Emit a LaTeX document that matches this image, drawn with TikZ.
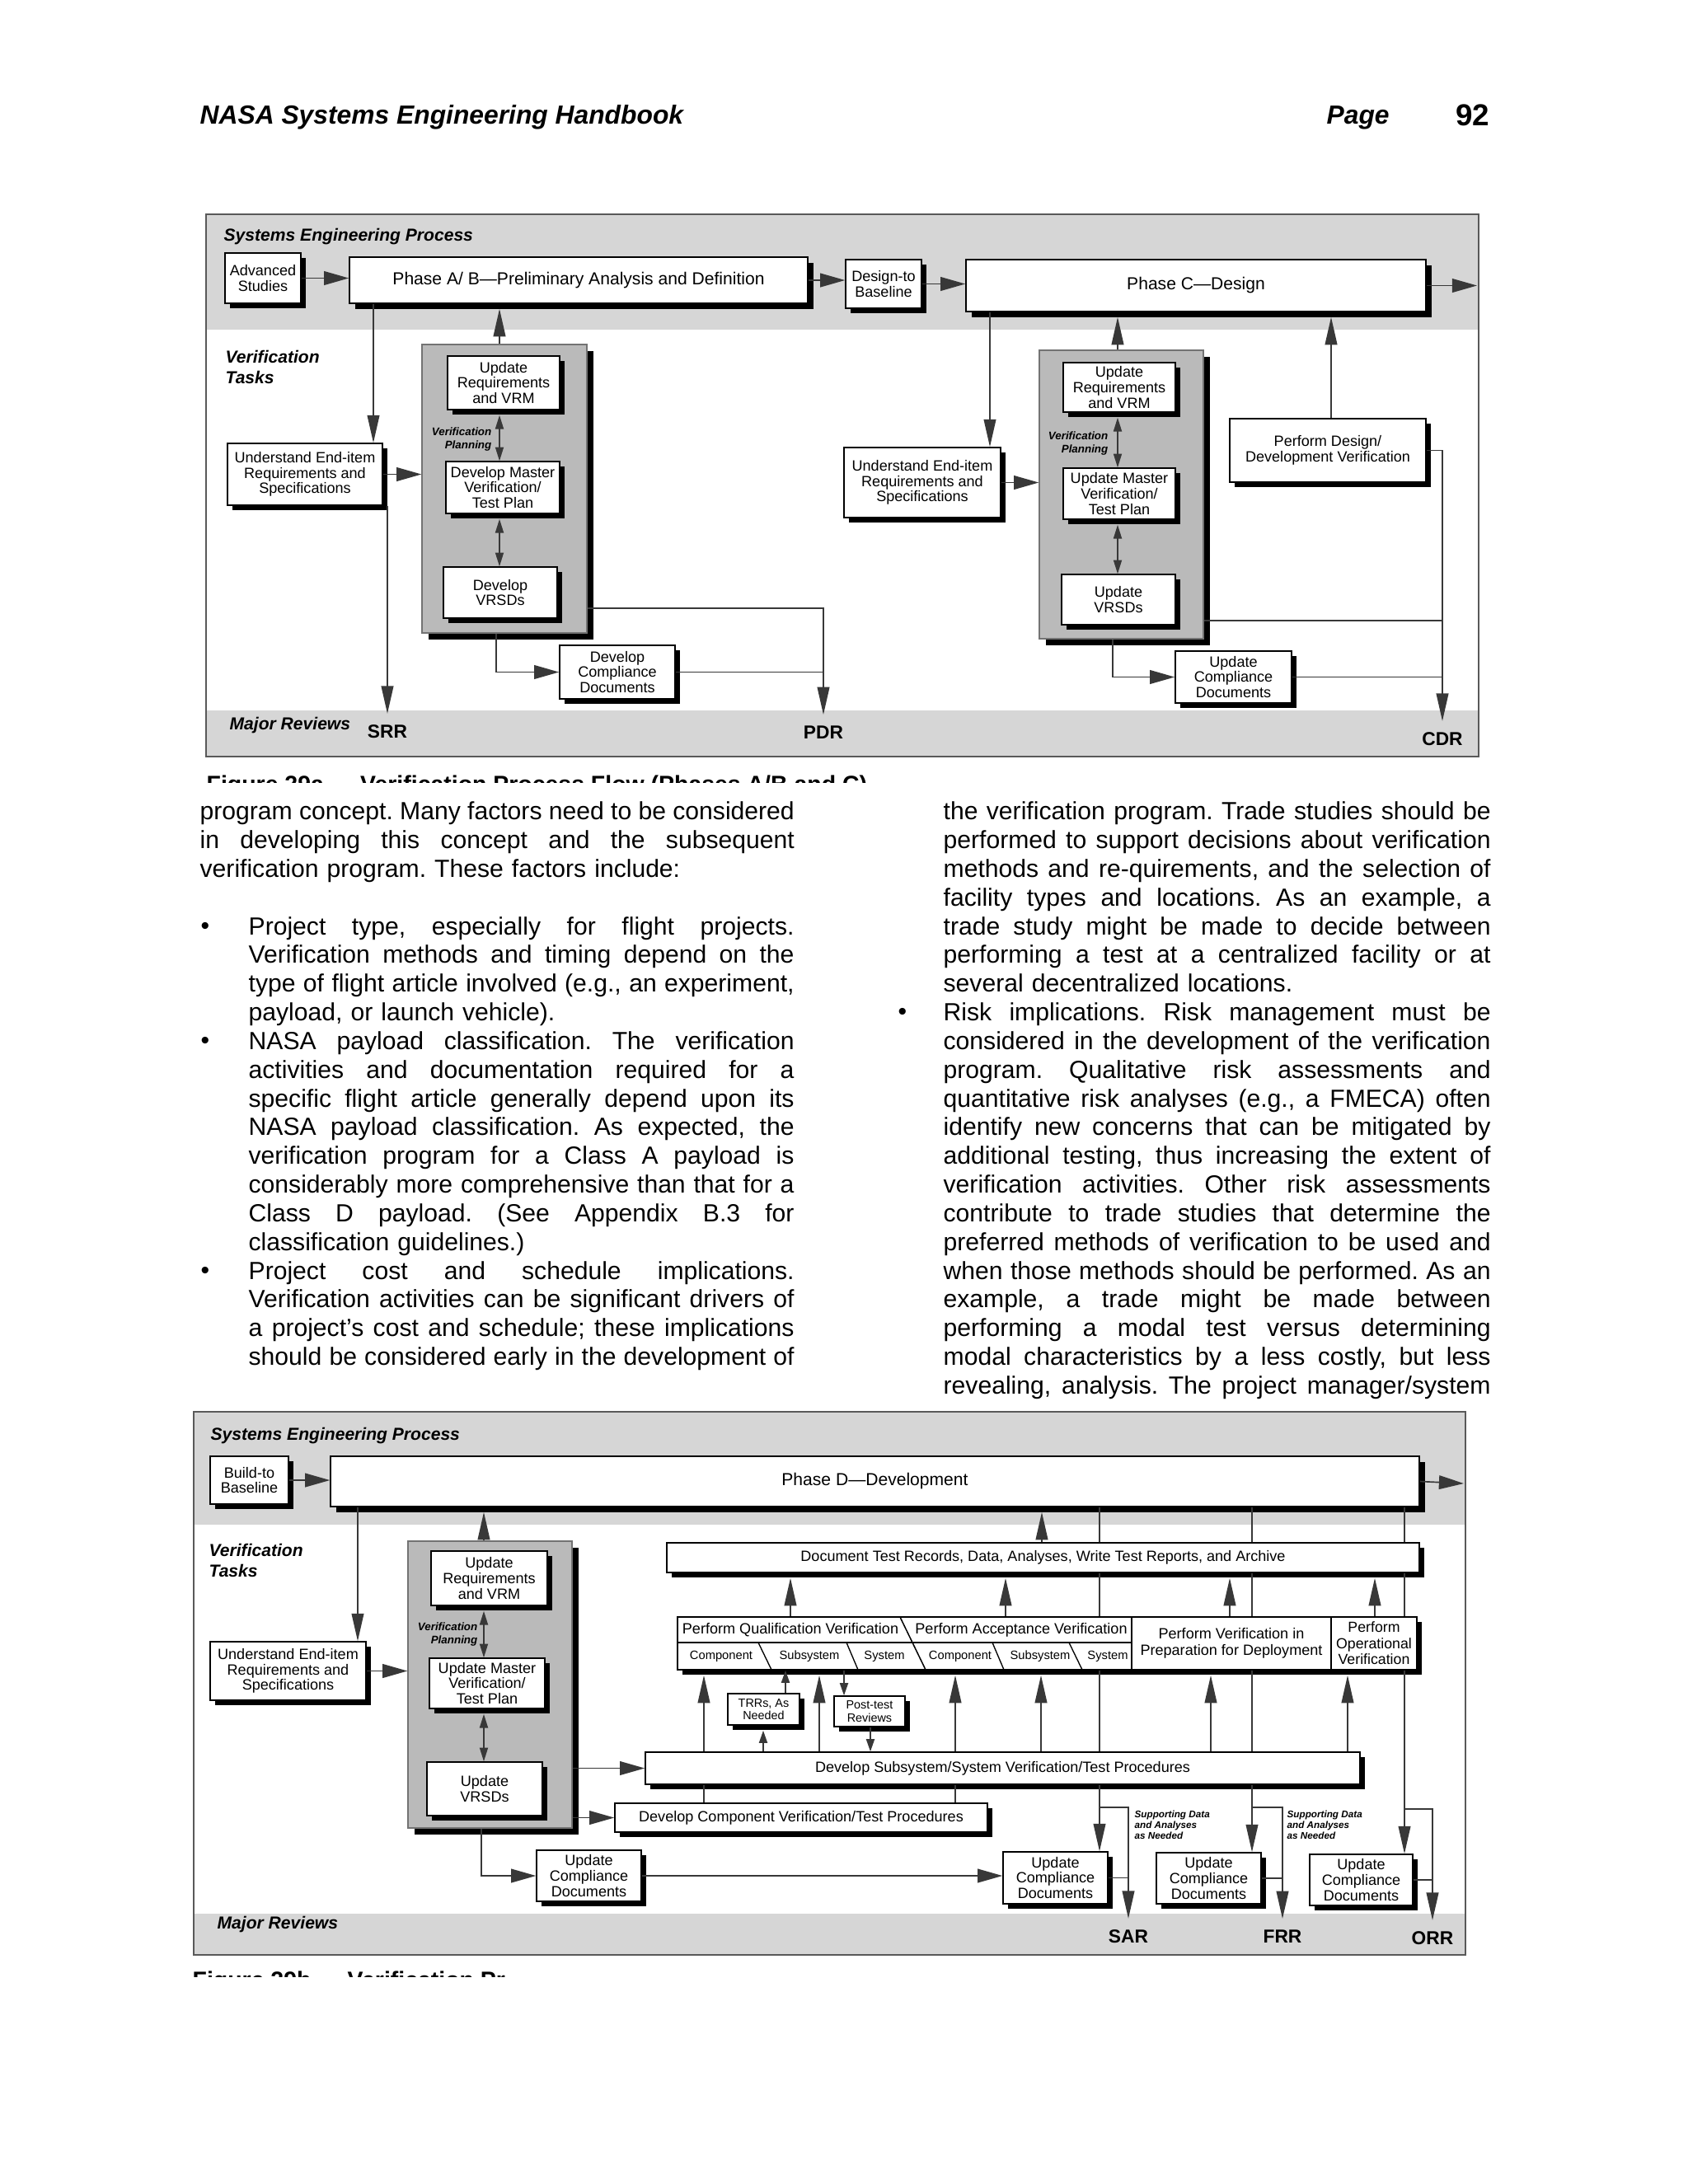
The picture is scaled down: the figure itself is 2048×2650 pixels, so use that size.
\documentclass[tikz,border=0pt]{standalone}
\usepackage{fontspec}
\setmainfont{Liberation Sans}
\usetikzlibrary{arrows.meta,shadows,fit}
\ExplSyntaxOn
\seq_new:N \l_my_words_seq
\cs_new_protected:Npn \my_just:nn #1#2
  {
    \seq_set_split:Nnn \l_my_words_seq { ~ } { #2 }
    \leavevmode
    \hbox_to_wd:nn { #1 }
      { \seq_use:Nn \l_my_words_seq { \skip_horizontal:n { 2.5pt plus 1fill minus 0.9pt } } }
  }
\NewDocumentCommand \jA { m } { \my_just:nn { 215.5pt } { #1 } }
\NewDocumentCommand \jB { m } { \my_just:nn { 197.8pt } { #1 } }
\NewDocumentCommand \jC { m } { \my_just:nn { 198.4pt } { #1 } }
\ExplSyntaxOff
\newcommand\bodyfont{\fontsize{9}{10.41}\selectfont\frenchspacing}
\newcommand\tbox[5][bt]{\node[#2, fit={#4}] (#3) {}; \node[#1] (#3-t) at (#3.center) {#5};}
\begin{document}
\begin{tikzpicture}[x=0.29883pt,y=-0.29883pt,
  conn/.style={draw=black!78, line width=0.5pt},
  arr/.style={conn, -{Triangle[length=10pt,width=4.4pt]}},
  arrU/.style={arr, shorten >=1.8pt},
  harr/.style={conn, -{Triangle[length=9pt,width=5pt]}},
  sarr/.style={conn, -{Triangle[length=4.5pt,width=3pt]}},
  sarrU/.style={sarr, shorten >=1.8pt},
  dbl/.style={conn, {Triangle[length=5pt,width=3pt]}-{Triangle[length=5pt,width=3pt]}, shorten <=1.8pt},
  boxbase/.style={draw=black, line width=0.45pt, fill=white, inner sep=0pt},
  bx/.style={boxbase, drop shadow={shadow xshift=1.8pt, shadow yshift=-1.8pt, fill=black, opacity=1}},
  phase/.style={boxbase, drop shadow={shadow xshift=2.2pt, shadow yshift=-2.2pt, fill=black, opacity=1}},
  gcol/.style={draw=black!55, line width=0.4pt, fill=black!27, inner sep=0pt,
     drop shadow={shadow xshift=2.4pt, shadow yshift=-2.4pt, fill=black, opacity=1}},
  bt/.style={font=\fontsize{5.4}{5.6}\selectfont, inner sep=0pt, align=center},
  ptx/.style={font=\fontsize{6.3}{7}\selectfont, inner sep=0pt, align=center},
  stx/.style={font=\fontsize{4.3}{4.6}\selectfont, inner sep=0pt, align=center},
  band/.style={fill=black!16},
  frm/.style={draw=black!65, line width=0.6pt},
  ttl/.style={font=\fontsize{6.3}{7.2}\selectfont\bfseries\itshape, inner sep=0pt, align=left, anchor=north west},
  rev/.style={font=\fontsize{6.8}{7}\selectfont\bfseries, inner xsep=0pt, inner ysep=4pt},
  vpl/.style={font=\fontsize{4}{4.5}\selectfont\bfseries\itshape, inner sep=0pt, align=right, anchor=east},
  supl/.style={font=\fontsize{3.5}{3.9}\selectfont\bfseries\itshape, inner sep=0pt, align=left, anchor=north west},
  cellf/.style={font=\fontsize{5.4}{5.9}\selectfont, inner sep=0pt, align=center},
  subf/.style={font=\fontsize{4.4}{5}\selectfont, inner sep=0pt},
  para/.style={font=\bodyfont, inner sep=0pt, align=left, anchor=north west},
  bul/.style={font=\fontsize{9}{10.41}\selectfont, inner sep=0pt, anchor=base},
  capf/.style={font=\fontsize{8.5}{10}\selectfont\bfseries, inner sep=0pt, anchor=base west}
]
\useasboundingbox (0,0) rectangle (2048,2650);
\foreach \v in {453,470,606,602,1201,1356,1350,1615,434,587,584,959,1220,1492,1668,1264,1334,1519,1704,994,1263,1469,1635,854,1159,926,953,1024,1056}
  \coordinate (x\v) at (\v,0);

% ---------------- header ----------------
\node[anchor=base west, inner sep=0pt, font=\fontsize{9.5}{11}\selectfont\bfseries\itshape] (hdr) at (242,150) {NASA Systems Engineering Handbook};
\node[anchor=base west, inner sep=0pt, font=\fontsize{9.5}{11}\selectfont\bfseries\itshape] (pg) at (1609,150) {Page};
\node[anchor=base east, inner sep=0pt, font=\fontsize{11}{13}\selectfont\bfseries] (pgn) at (1808,152) {92};

% ================= TOP DIAGRAM =================
\fill[white] (250,260) rectangle (1794,918);
\fill[band] (250,260) rectangle (1794,400);
\fill[band] (250,862) rectangle (1794,918);
\draw[frm] (250,260) rectangle (1794,918);

\node[ttl] (sepA) at (271,277) {Systems Engineering Process};
\tbox{bx}{adv}{(273,307) (365,368)}{Advanced\\Studies}
\tbox[ptx]{phase}{pab}{(424,312) (980,368)}{Phase A/ B—Preliminary Analysis and Definition}
\tbox{bx}{dtb}{(1026,315) (1118,374)}{Design-to\\Baseline}
\tbox[ptx]{phase}{pc}{(1172,315) (1730,378)}{Phase C—Design}
\coordinate (exA) at (1792,346.5);
\node[ttl] (vtA) at (273,425) {Verification\\Tasks};

\node[gcol, fit={(512,418) (712,768)}] (gA) {};
\tbox{bx}{urA}{(543,432) (679,497)}{Update\\Requirements\\and VRM}
\node[vpl] (vpA) at (597,533) {Verification\\Planning};
\tbox{bx}{dmA}{(541,560) (679,623)}{Develop Master\\Verification/\\Test Plan}
\tbox{bx}{dvA}{(538,688) (676,750)}{Develop\\VRSDs}
\tbox{bx}{ueA}{(276,538) (464,613)}{Understand End-item\\Requirements and\\Specifications}
\tbox{bx}{dcA}{(679,783) (819,848)}{Develop\\Compliance\\Documents}

\tbox{bx}{ueB}{(1024,543) (1214,628)}{Understand End-item\\Requirements and\\Specifications}
\node[gcol, fit={(1261,425) (1460,775)}] (gB) {};
\tbox{bx}{urB}{(1290,440) (1426,500)}{Update\\Requirements\\and VRM}
\node[vpl] (vpB) at (1345,538) {Verification\\Planning};
\tbox{bx}{dmB}{(1290,568) (1426,630)}{Update Master\\Verification/\\Test Plan}
\tbox{bx}{dvB}{(1288,697) (1426,758)}{Update\\VRSDs}
\tbox{bx}{pdv}{(1492,508) (1730,585)}{Perform Design/\\Development Verification}
\tbox{bx}{ucA}{(1426,790) (1567,853)}{Update\\Compliance\\Documents}

\node[ttl, anchor=west] (mrA) at (278,880) {Major Reviews};
\node[rev] (srr) at (470,888) {SRR};
\node[rev] (pdr) at (999,889) {PDR};
\node[rev] (cdr) at (1750,897) {CDR};
\coordinate (pdrJ) at (999,738);
\coordinate (cdrJ) at (1750,753);

% connectors top
\draw[harr] (adv.east) -- (adv.east -| pab.west);
\draw[harr] (pab.east) -- (pab.east -| dtb.west);
\draw[harr] (dtb.east) -- (dtb.east -| pc.west);
\draw[harr] (pc.east) -- (exA);
\draw[arr] (pab.south -| x453) -- (ueA.north -| x453);
\draw[arr] (ueA.south -| x470) -- (srr.north -| x470);
\draw[harr] (ueA.east) -- (ueA.east -| gA.west);
\draw[arrU] (gA.north -| x606) -- (pab.south -| x606);
\draw[dbl] (urA.south -| x606) -- (dmA.north -| x606);
\draw[dbl] (dmA.south -| x606) -- (dvA.north -| x606);
\draw[arr] (gA.east |- pdrJ) -- (pdrJ) -- (pdr.north);
\draw[harr] (gA.south -| x602) |- (dcA.west);
\draw[conn] (dcA.east) -- (dcA.east -| pdrJ);

\draw[arr] (pc.south -| x1201) -- (ueB.north -| x1201);
\draw[harr] (ueB.east) -- (ueB.east -| gB.west);
\draw[arrU] (gB.north -| x1356) -- (pc.south -| x1356);
\draw[dbl] (urB.south -| x1356) -- (dmB.north -| x1356);
\draw[dbl] (dmB.south -| x1356) -- (dvB.north -| x1356);
\draw[arrU] (pdv.north -| x1615) -- (pc.south -| x1615);
\draw[arr] (pdv.east) -| (cdr.north);
\draw[conn] (gB.east |- cdrJ) -- (cdrJ);
\draw[harr] (gB.south -| x1350) |- (ucA.west);
\draw[conn] (ucA.east) -- (ucA.east -| cdr.north);

% clipped caption fragment
\begin{scope}
\clip (240,938) rectangle (1100,949);
\node[capf] (capA) at (250,961.5) {Figure 29a — Verification Process Flow (Phases A/B and C)};
\end{scope}

% ================= BODY TEXT =================
\node[para, text width=215.5pt] (p1) at (242,969.6) {%
\jA{\strut program concept. Many factors need to be considered}\\
\jA{in developing this concept and the subsequent}\\
verification program. These factors include:};

\node[bul] (bu1) at (249,1133.4) {•};
\node[para, text width=197.8pt] (p2) at (301,1109.0) {%
\jB{\strut Project type, especially for flight projects.}\\
\jB{Verification methods and timing depend on the}\\
\jB{type of flight article involved (e.g., an experiment,}\\
payload, or launch vehicle).};

\node[bul] (bu2) at (249,1272.7) {•};
\node[para, text width=197.8pt] (p3) at (301,1248.3) {%
\jB{\strut NASA payload classification. The verification}\\
\jB{activities and documentation required for a}\\
\jB{specific flight article generally depend upon its}\\
\jB{NASA payload classification. As expected, the}\\
\jB{verification program for a Class A payload is}\\
\jB{considerably more comprehensive than that for a}\\
\jB{Class D payload. (See Appendix B.3 for}\\
classification guidelines.)};

\node[bul] (bu3) at (249,1551.4) {•};
\node[para, text width=197.8pt] (p4) at (301,1527.0) {%
\jB{\strut Project cost and schedule implications.}\\
\jB{Verification activities can be significant drivers of}\\
\jB{a project's cost and schedule; these implications}\\
\jB{should be considered early in the development of}};

\node[para, text width=198.4pt] (p5) at (1144,969.6) {%
\jC{\strut the verification program. Trade studies should be}\\
\jC{performed to support decisions about verification}\\
\jC{methods and re-quirements, and the selection of}\\
\jC{facility types and locations. As an example, a}\\
\jC{trade study might be made to decide between}\\
\jC{performing a test at a centralized facility or at}\\
several decentralized locations.};

\node[bul] (bu4) at (1095,1237.9) {•};
\node[para, text width=198.4pt] (p6) at (1144,1213.5) {%
\jC{\strut Risk implications. Risk management must be}\\
\jC{considered in the development of the verification}\\
\jC{program. Qualitative risk assessments and}\\
\jC{quantitative risk analyses (e.g., a FMECA) often}\\
\jC{identify new concerns that can be mitigated by}\\
\jC{additional testing, thus increasing the extent of}\\
\jC{verification activities. Other risk assessments}\\
\jC{contribute to trade studies that determine the}\\
\jC{preferred methods of verification to be used and}\\
\jC{when those methods should be performed. As an}\\
\jC{example, a trade might be made between}\\
\jC{performing a modal test versus determining}\\
\jC{modal characteristics by a less costly, but less}\\
\jC{revealing, analysis. The project manager/system}};

% ================= BOTTOM DIAGRAM =================
\fill[white] (235,1713) rectangle (1778,2372);
\fill[band] (235,1713) rectangle (1778,1850);
\fill[band] (235,2322) rectangle (1778,2372);
\draw[frm] (235,1713) rectangle (1778,2372);

\node[ttl] (sepB) at (255,1732) {Systems Engineering Process};
\tbox{bx}{btb}{(255,1767) (350,1825)}{Build-to\\Baseline}
\tbox[ptx]{phase}{pd}{(401,1767) (1722,1828)}{Phase D—Development}
\coordinate (exB) at (1776,1800);
\node[ttl] (vtB) at (253,1873) {Verification\\Tasks};

\node[gcol, fit={(495,1870) (694,2218)}] (gC) {};
\tbox{bx}{urC}{(523,1882) (664,1948)}{Update\\Requirements\\and VRM}
\node[vpl] (vpC) at (580,1983) {Verification\\Planning};
\tbox{bx}{dmC}{(521,2012) (661,2073)}{Update Master\\Verification/\\Test Plan}
\tbox{bx}{dvC}{(518,2138) (658,2203)}{Update\\VRSDs}
\tbox{bx}{ueC}{(255,1992) (444,2063)}{Understand End-item\\Requirements and\\Specifications}

\tbox{bx}{dtr}{(809,1872) (1722,1908)}{Document Test Records, Data, Analyses, Write Test Reports, and Archive}
\node[bx, fit={(822,1962) (1719,2026)}] (prow) {};
\draw[line width=0.45pt] (1373,1962) -- (1373,2026);
\draw[line width=0.45pt] (1615,1962) -- (1615,2026);
\draw[line width=0.4pt] (822,1993) -- (1373,1993);
\draw[line width=0.45pt] (1092,1962) -- (1123,2026);
\draw[line width=0.4pt] (920,1993) -- (936,2026);
\draw[line width=0.4pt] (1027,1993) -- (1041,2026);
\draw[line width=0.4pt] (1204,1993) -- (1218,2026);
\draw[line width=0.4pt] (1297,1993) -- (1313,2026);
\node[cellf] (pqv) at (959,1978) {Perform Qualification Verification};
\node[cellf] (pav) at (1239,1978) {Perform Acceptance Verification};
\node[subf] (sq1) at (875,2010) {Component};
\node[subf] (sq2) at (982,2010) {Subsystem};
\node[subf] (sq3) at (1073,2010) {System};
\node[subf] (sa1) at (1165,2010) {Component};
\node[subf] (sa2) at (1262,2010) {Subsystem};
\node[subf] (sa3) at (1344,2010) {System};
\node[cellf] (pvd) at (1494,1994) {Perform Verification in\\Preparation for Deployment};
\node[cellf, font=\fontsize{5.3}{5.8}\selectfont] (pov) at (1667,1994) {Perform\\Operational\\Verification};

\tbox[stx]{bx}{trr}{(883,2055) (970,2093)}{TRRs, As\\Needed}
\tbox[stx]{bx}{ptr}{(1012,2058) (1098,2095)}{Post-test\\Reviews}
\tbox{bx}{dss}{(783,2126) (1650,2165)}{Develop Subsystem/System Verification/Test Procedures}
\tbox{bx}{dcv}{(746,2188) (1198,2223)}{Develop Component Verification/Test Procedures}
\tbox{bx}{ucC}{(651,2245) (778,2307)}{Update\\Compliance\\Documents}
\tbox{bx}{ucS}{(1217,2247) (1344,2310)}{Update\\Compliance\\Documents}
\tbox{bx}{ucF}{(1403,2248) (1530,2310)}{Update\\Compliance\\Documents}
\tbox{bx}{ucO}{(1589,2250) (1714,2312)}{Update\\Compliance\\Documents}

\node[ttl, anchor=west] (mrB) at (263,2335) {Major Reviews};
\node[rev] (sar) at (1369,2350) {SAR};
\node[rev] (frr) at (1556,2350) {FRR};
\node[rev] (orr) at (1738,2352) {ORR};
\coordinate (brS) at (1334,2193);
\coordinate (brF) at (1519,2193);
\coordinate (brO) at (1704,2195);
\node[supl] (sdS) at (1376,2196) {Supporting Data\\and Analyses\\as Needed};
\node[supl] (sdF) at (1561,2196) {Supporting Data\\and Analyses\\as Needed};

% connectors bottom
\draw[harr] (btb.east) -- (btb.east -| pd.west);
\draw[harr] (pd.east) -- (exB);
\draw[arr] (pd.south -| x434) -- (ueC.north -| x434);
\draw[harr] (ueC.east) -- (ueC.east -| gC.west);
\draw[arrU] (gC.north -| x587) -- (pd.south -| x587);
\draw[dbl] (urC.south -| x587) -- (dmC.north -| x587);
\draw[dbl] (dmC.south -| x587) -- (dvC.north -| x587);
\draw[arrU] (dtr.north -| x1264) -- (pd.south -| x1264);
\foreach \c in {x959,x1220,x1492,x1668}
  \draw[arrU] (prow.north -| \c) -- (dtr.south -| \c);
\foreach \c in {x1334,x1519,x1704} {
  \draw[conn] (pd.south -| \c) -- (dtr.north -| \c);
  \draw[conn] (dtr.south -| \c) -- (prow.north -| \c);
}
\draw[conn] (prow.south -| x1334) -- (dss.north -| x1334);
\draw[conn] (prow.south -| x1519) -- (dss.north -| x1519);
\draw[arr] (dss.south -| x1334) -- (ucS.north -| x1334);
\draw[arr] (dss.south -| x1519) -- (ucF.north -| x1519);
\draw[arr] (prow.south -| x1704) -- (ucO.north -| x1704);

\draw[harr] (gC.east |- dss.west) -- (dss.west);
\draw[harr] (gC.east |- dcv.west) -- (dcv.west);
\foreach \c in {x994,x1263,x1469,x1635,x854,x1159}
  \draw[arrU] (dss.north -| \c) -- (prow.south -| \c);
\draw[conn] (dcv.north -| x854) -- (dss.south -| x854);
\draw[conn] (dcv.north -| x1159) -- (dss.south -| x1159);
\draw[sarrU] (dss.north -| x926) -- (trr.south -| x926);
\draw[sarr] (trr.north -| x953) -- (prow.south -| x953);
\draw[sarr] (prow.south -| x1024) -- (ptr.north -| x1024);
\draw[sarr] (ptr.south -| x1056) -- (dss.north -| x1056);
\draw[harr] (gC.south -| x584) |- (ucC.west);
\draw[harr] (ucC.east) -- (ucC.east -| ucS.west);
\draw[arr] (brS) -| (sar.north);
\draw[conn] (ucS.east) -- (ucS.east -| sar.north);
\draw[arr] (brF) -| (frr.north);
\draw[conn] (ucF.east) -- (ucF.east -| frr.north);
\draw[arr] (brO) -| (orr.north);
\draw[conn] (ucO.east) -- (ucO.east -| orr.north);

\begin{scope}
\clip (225,2389) rectangle (612,2398);
\node[capf] (capB) at (233,2412) {Figure 29b — Verification Process Flow (Phase D)};
\end{scope}
\end{tikzpicture}
\end{document}
